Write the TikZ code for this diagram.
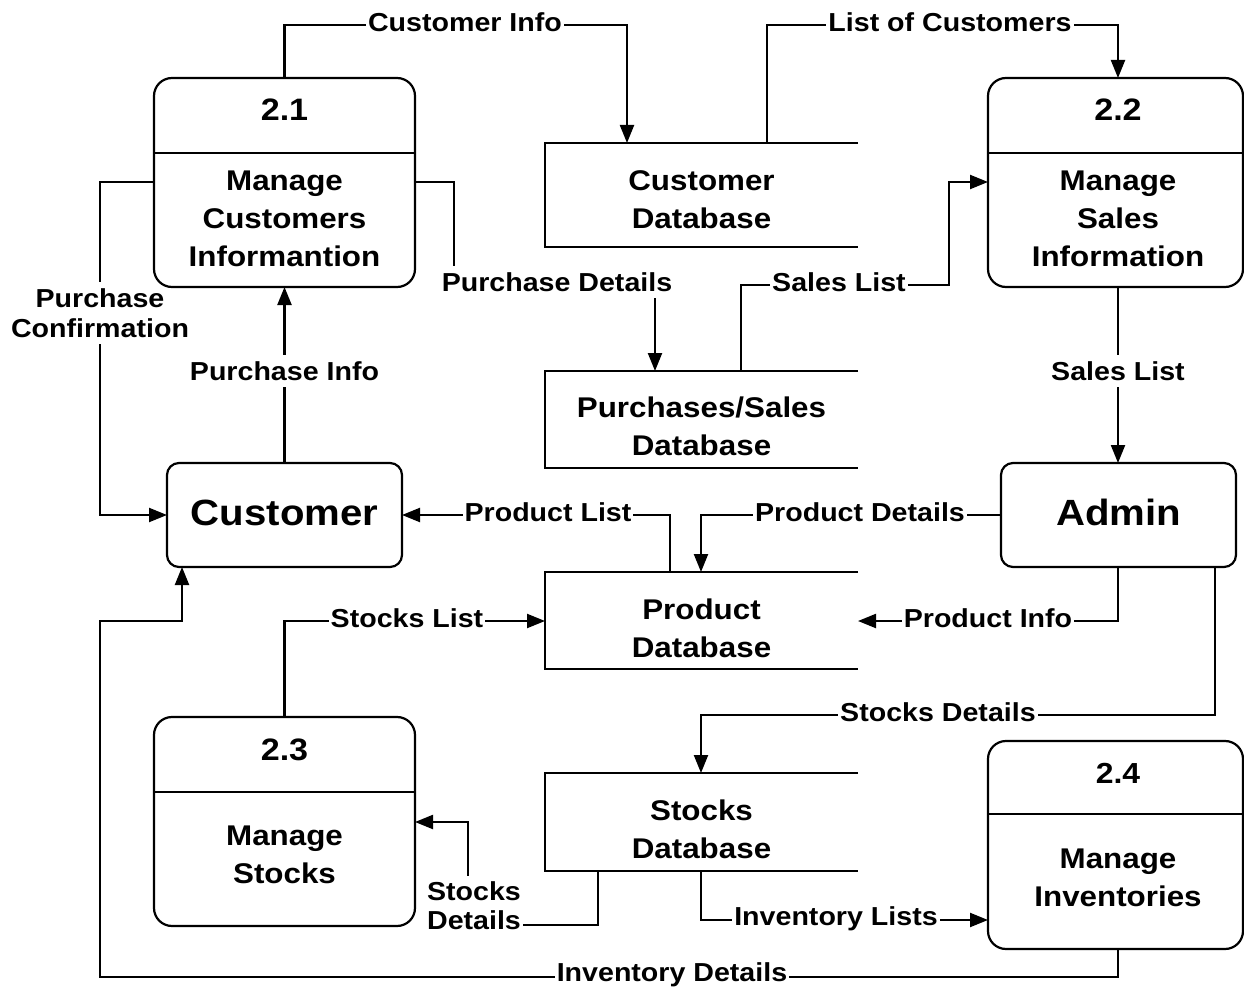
\documentclass[tikz,border=0pt]{standalone}
\usepackage{fontspec}
\setmainfont{Liberation Sans}[FakeStretch=1.1]
\usetikzlibrary{arrows.meta}
\begin{document}
\begin{tikzpicture}[x=0.5pt,y=-0.5pt,
  every node/.style={outer sep=0pt, inner sep=0pt},
  ln/.style={line width=1.1pt, draw=black},
  flow/.style={ln, -{Triangle[length=9pt,width=7pt]}},
  proc/.style={minimum height=104.5pt},
  ent/.style={minimum width=117.5pt, minimum height=52pt, font=\bfseries\fontsize{18.25}{22}\selectfont},
  store/.style={minimum width=156.5pt},
  ptext/.style={align=center, font=\bfseries\fontsize{14.25}{19}\selectfont},
  pnum/.style={font=\bfseries\fontsize{15.5}{18}\selectfont},
  lbl/.style={fill=white, inner xsep=1pt, inner ysep=3pt, align=center, font=\bfseries\fontsize{13}{15}\selectfont},
]
\fill[white] (0,0) rectangle (1244,990);
\useasboundingbox (0,0) rectangle (1244,990);

% processes (shapes; outlines drawn at the end)
\node[proc, minimum width=130.5pt] (p1) at (284.5,182.5) {};
\node[proc, minimum width=127.5pt] (p2) at (1115.5,182.5) {};
\node[proc, minimum width=130.5pt] (p3) at (284.5,821.5) {};
\node[proc, minimum width=127.5pt, minimum height=104pt] (p4) at (1115.5,845) {};
\node[pnum] (p1n) at (284.5,110) {2.1};
\node[pnum] (p2n) at (1118,110) {2.2};
\node[pnum] (p3n) at (284.5,750) {2.3};
\node[pnum, font=\bfseries\fontsize{14.5}{18}\selectfont] (p4n) at (1118,773) {2.4};
\node[ptext] (p1t) at (284.5,219) {Manage\\Customers\\Informantion};
\node[ptext] (p2t) at (1118,219) {Manage\\Sales\\Information};
\node[ptext] (p3t) at (284.5,855) {Manage\\Stocks};
\node[ptext] (p4t) at (1118,878) {Manage\\Inventories};

% entities
\node[ent] (cust) at (284.5,515) {\raisebox{2.5pt}{Customer}};
\node[ent] (admin) at (1118.5,515) {\raisebox{2.5pt}{Admin}};

% data stores
\node[store, minimum height=52pt] (cdb) at (701.5,195) {};
\node[store, minimum height=48.5pt] (pdb) at (701.5,419.5) {};
\node[store, minimum height=48.5pt] (prdb) at (701.5,620.5) {};
\node[store, minimum height=49pt] (sdb) at (701.5,822) {};
\node[ptext] (cdbt) at (701.5,200) {Customer\\Database};
\node[ptext] (pdbt) at (701.5,426) {Purchases/Sales\\Database};
\node[ptext] (prdbt) at (701.5,628) {Product\\Database};
\node[ptext] (sdbt) at (701.5,829) {Stocks\\Database};

% helper coordinates
\coordinate (ciA) at (627,25);
\coordinate (lcA) at (767,25);
\coordinate (lcB) at (1118,25);
\coordinate (pcA) at (100,182);
\coordinate (pdA) at (454,182);
\coordinate (pdB) at (655,282);
\coordinate (slA) at (741,285);
\coordinate (slB) at (949,285);
\coordinate (slC) at (949,182);
\coordinate (srA) at (1118,0);
\coordinate (plA) at (670,515);
\coordinate (pdtA) at (701,515);
\coordinate (piA) at (1118,621);
\coordinate (stA) at (284.5,621);
\coordinate (sdA) at (1215,715);
\coordinate (sdB) at (701,715);
\coordinate (sdCa) at (598,925);
\coordinate (sdCb) at (468,925);
\coordinate (sdCc) at (468,822);
\coordinate (ilA) at (701,920);
\coordinate (idA) at (1118,977);
\coordinate (idB) at (100,977);
\coordinate (idC) at (100,621);
\coordinate (idD) at (182,621);

% flows
\draw[flow] (p1.north) |- (ciA) -- (ciA |- cdb.north);
\draw[flow] (lcA |- cdb.north) -- (lcA) -- (lcB) -- (lcB |- p2.north);
\draw[flow] (pcA -| p1.west) -- (pcA) |- (cust.west);
\draw[flow] (cust.north) -- (p1.south);
\draw[flow] (pdA -| p1.east) -- (pdA) |- (pdB) -- (pdB |- pdb.north);
\draw[flow] (slA |- pdb.north) -- (slA) -- (slB) -- (slC) -- (slC -| p2.west);
\draw[flow] (srA |- p2.south) -- (srA |- admin.north);
\draw[flow] (plA |- prdb.north) -- (plA) -- (cust.east);
\draw[flow] (admin.west) -- (pdtA) -- (pdtA |- prdb.north);
\draw[flow] (piA |- admin.south) -- (piA) -- (piA -| prdb.east);
\draw[flow] (p3.north) -- (stA) -- (stA -| prdb.west);
\draw[flow] (sdA |- admin.south) -- (sdA) -- (sdB) -- (sdB |- sdb.north);
\draw[flow] (sdCa |- sdb.south) -- (sdCa) -- (sdCb) -- (sdCc) -- (sdCc -| p3.east);
\draw[flow] (ilA |- sdb.south) -- (ilA) -- (ilA -| p4.west);
\draw[flow] (idA |- p4.south) -- (idA) -- (idB) -- (idC) -- (idD) -- (idD |- cust.south);

% labels
\node[lbl] (l1) at (465,22) {Customer Info};
\node[lbl] (l2) at (950,22) {List of Customers};
\node[lbl] (l3) at (100,313) {Purchase\\Confirmation};
\node[lbl] (l4) at (284.5,371) {Purchase Info};
\node[lbl] (l5) at (557,282) {Purchase Details};
\node[lbl] (l6) at (839,282) {Sales List};
\node[lbl] (l7) at (1118,371) {Sales List};
\node[lbl] (l8) at (548,512) {Product List};
\node[lbl] (l9) at (860,512) {Product Details};
\node[lbl] (l10) at (988,618) {Product Info};
\node[lbl] (l11) at (407,618) {Stocks List};
\node[lbl] (l12) at (938,712) {Stocks Details};
\node[lbl, font=\bfseries\fontsize{13}{14.5}\selectfont] (l13) at (474,906) {Stocks\\Details};
\node[lbl] (l14) at (836,919) {Inventory Lists};
\node[lbl] (l15) at (672,975) {Inventory Details};

% outlines on top
\foreach \p in {p1,p2,p3,p4}
  \draw[ln, rounded corners=9pt] (\p.north west) rectangle (\p.south east);
\coordinate (d1) at (0,153);
\coordinate (d3) at (0,792);
\coordinate (d4) at (0,814);
\draw[ln] (p1.west |- d1) -- (p1.east |- d1);
\draw[ln] (p2.west |- d1) -- (p2.east |- d1);
\draw[ln] (p3.west |- d3) -- (p3.east |- d3);
\draw[ln] (p4.west |- d4) -- (p4.east |- d4);
\foreach \e in {cust,admin}
  \draw[ln, rounded corners=6pt] (\e.north west) rectangle (\e.south east);
\foreach \s in {cdb,pdb,prdb,sdb}
  \draw[ln] (\s.north east) -- (\s.north west) -- (\s.south west) -- (\s.south east);
\end{tikzpicture}
\end{document}
